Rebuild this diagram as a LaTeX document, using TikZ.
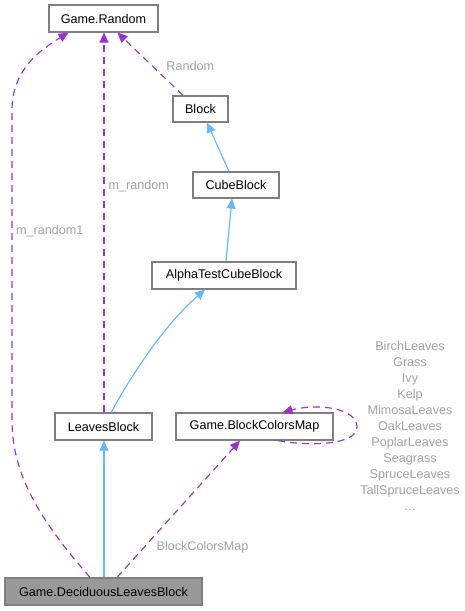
\documentclass[tikz,border=0pt]{standalone}
\usepackage{fontspec}
\setmainfont{Liberation Sans}
\usetikzlibrary{arrows.meta}
\definecolor{edgepurple}{HTML}{9A32CD}
\definecolor{edgeblue}{HTML}{63B8FF}
\definecolor{boxborder}{HTML}{7F7F7F}
\definecolor{labelgray}{HTML}{A0A0A0}
\definecolor{focusfill}{HTML}{999999}
\tikzset{
  cls/.style={draw=boxborder, line width=1.2pt, fill=white, inner sep=0pt, font=\fontsize{12.6}{14}\selectfont, text=black},
  focus/.style={cls, fill=focusfill},
  usesedge/.style={draw=edgepurple, line width=1.15pt, dash pattern=on 7pt off 5pt, -{Triangle[length=10pt,width=9pt,fill=edgepurple]}},
  inhedge/.style={draw=edgeblue, line width=1.15pt, -{Triangle[length=10pt,width=9pt,fill=edgeblue]}},
  elabel/.style={text=labelgray, font=\fontsize{12.6}{14}\selectfont, inner sep=0pt},
}
\begin{document}
\begin{tikzpicture}[x=1pt,y=-1pt]
\useasboundingbox (0,0) rectangle (465,611);
% nodes
\node[cls, minimum width=109pt, minimum height=27pt] (rnd) at (103.5,18.5) {Game.Random};
\node[cls, minimum width=55pt, minimum height=26pt] (block) at (200.5,109) {Block};
\node[cls, minimum width=86pt, minimum height=26pt] (cube) at (236,185) {CubeBlock};
\node[cls, minimum width=144pt, minimum height=27pt] (alpha) at (224,275.5) {AlphaTestCubeBlock};
\node[cls, minimum width=97pt, minimum height=27pt] (leaves) at (103.5,426.5) {LeavesBlock};
\node[cls, minimum width=157pt, minimum height=27pt] (bcm) at (254.5,426.5) {Game.BlockColorsMap};
\node[focus, minimum width=197pt, minimum height=27pt] (dec) at (103.5,591.5) {Game.DeciduousLeavesBlock};
% anchors for connector ends
\coordinate (decA) at ([xshift=-13.5pt]dec.north);
\coordinate (decM) at ([xshift=0.5pt]dec.north);
\coordinate (decC) at ([xshift=13.5pt]dec.north);
\coordinate (rndL) at ([xshift=-35pt]rnd.south);
\coordinate (rndM) at ([xshift=0.5pt]rnd.south);
\coordinate (rndR) at ([xshift=14pt]rnd.south);
\coordinate (blockT) at ([xshift=-17.5pt]block.north);
\coordinate (blockB) at ([xshift=6.5pt]block.south);
\coordinate (cubeT) at ([xshift=-7pt]cube.north);
\coordinate (cubeB) at ([xshift=-4pt]cube.south);
\coordinate (alphaT) at ([xshift=2pt]alpha.north);
\coordinate (alphaB) at ([xshift=-19pt]alpha.south);
\coordinate (leavesT) at ([xshift=7.5pt]leaves.north);
\coordinate (leavesM) at ([xshift=0.5pt]leaves.north);
\coordinate (leavesB) at ([xshift=0.5pt]leaves.south);
\coordinate (bcmB) at ([xshift=-14.5pt]bcm.south);
\coordinate (bcmLoopS) at ([xshift=23.5pt]bcm.south);
\coordinate (bcmLoopE) at ([xshift=28pt]bcm.north);
% inheritance edges
\draw[inhedge] (cubeT) -- (blockB);
\draw[inhedge] (alphaT) -- (cubeB);
\draw[inhedge] (leavesT) .. controls (140,360) and (172,318) .. (alphaB);
\draw[inhedge] (decM) -- (leavesB);
% usage edges
\draw[usesedge] (blockT) -- (rndR) node[elabel, pos=0.47, anchor=center, xshift=38pt] {Random};
\draw[usesedge] (leavesM) -- (rndM) node[elabel, pos=0.596, anchor=west, xshift=4pt] {m\_random};
\draw[usesedge] (decA) .. controls (40,520) and (12,475) .. (12,420) -- (12,110) .. controls (12,70) and (40,50) .. (rndL);
\node[elabel, anchor=west] (lblr1) at (16,231) {m\_random1};
\draw[usesedge] (decC) -- (bcmB) node[elabel, pos=0.22, anchor=west, xshift=12pt] {BlockColorsMap};
\draw[usesedge] (bcmLoopS) .. controls (305,446) and (357,446) .. (357,427) .. controls (357,408) and (318,403) .. (bcmLoopE);
\node[elabel, align=center, font=\fontsize{12.6}{16}\selectfont] (lst) at (410,426) {BirchLeaves\\Grass\\Ivy\\Kelp\\MimosaLeaves\\OakLeaves\\PoplarLeaves\\Seagrass\\SpruceLeaves\\TallSpruceLeaves\\\dots};
\end{tikzpicture}
\end{document}
